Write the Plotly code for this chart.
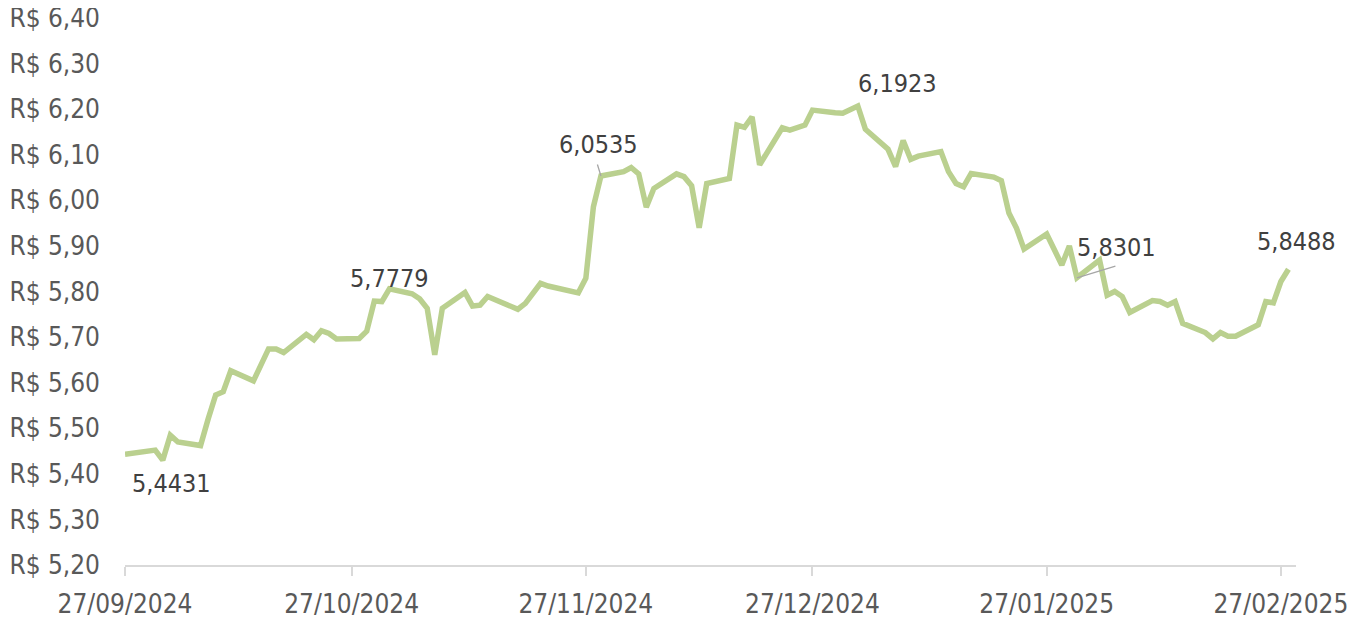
import plotly.graph_objects as go

dates = [
    "2024-09-27", "2024-09-30", "2024-10-01", "2024-10-02", "2024-10-03", "2024-10-04",
    "2024-10-07", "2024-10-08", "2024-10-09", "2024-10-10", "2024-10-11",
    "2024-10-14", "2024-10-15", "2024-10-16", "2024-10-17", "2024-10-18",
    "2024-10-21", "2024-10-22", "2024-10-23", "2024-10-24", "2024-10-25",
    "2024-10-28", "2024-10-29", "2024-10-30", "2024-10-31", "2024-11-01",
    "2024-11-04", "2024-11-05", "2024-11-06", "2024-11-07", "2024-11-08",
    "2024-11-11", "2024-11-12", "2024-11-13", "2024-11-14",
    "2024-11-18", "2024-11-19", "2024-11-21", "2024-11-22",
    "2024-11-25", "2024-11-26", "2024-11-27", "2024-11-28", "2024-11-29",
    "2024-12-02", "2024-12-03", "2024-12-04", "2024-12-05", "2024-12-06",
    "2024-12-09", "2024-12-10", "2024-12-11", "2024-12-12", "2024-12-13",
    "2024-12-16", "2024-12-17", "2024-12-18", "2024-12-19", "2024-12-20",
    "2024-12-23", "2024-12-24", "2024-12-26", "2024-12-27",
    "2024-12-30", "2024-12-31", "2025-01-02", "2025-01-03",
    "2025-01-06", "2025-01-07", "2025-01-08", "2025-01-09", "2025-01-10",
    "2025-01-13", "2025-01-14", "2025-01-15", "2025-01-16", "2025-01-17",
    "2025-01-20", "2025-01-21", "2025-01-22", "2025-01-23", "2025-01-24",
    "2025-01-27", "2025-01-28", "2025-01-29", "2025-01-30", "2025-01-31",
    "2025-02-03", "2025-02-04", "2025-02-05", "2025-02-06", "2025-02-07",
    "2025-02-10", "2025-02-11", "2025-02-12", "2025-02-13", "2025-02-14",
    "2025-02-17", "2025-02-18", "2025-02-19", "2025-02-20", "2025-02-21",
    "2025-02-24", "2025-02-25", "2025-02-26", "2025-02-27", "2025-02-28",
]
values = [
    5.4431, 5.449, 5.452, 5.430, 5.485, 5.470,
    5.462, 5.520, 5.573, 5.580, 5.626,
    5.604, 5.640, 5.674, 5.674, 5.666,
    5.706, 5.694, 5.714, 5.708, 5.696,
    5.697, 5.713, 5.779, 5.7779, 5.806,
    5.795, 5.784, 5.763, 5.661, 5.763,
    5.798, 5.768, 5.770, 5.789,
    5.761, 5.774, 5.818, 5.812,
    5.801, 5.797, 5.829, 5.986, 6.0535,
    6.063, 6.072, 6.058, 5.985, 6.026,
    6.058, 6.052, 6.032, 5.940, 6.037,
    6.048, 6.165, 6.160, 6.183, 6.078,
    6.159, 6.154, 6.165, 6.198,
    6.1923, 6.191, 6.207, 6.156,
    6.112, 6.074, 6.131, 6.090, 6.097,
    6.107, 6.063, 6.037, 6.030, 6.059,
    6.051, 6.043, 5.972, 5.939, 5.893,
    5.926, 5.892, 5.858, 5.900, 5.8301,
    5.869, 5.792, 5.800, 5.789, 5.754,
    5.780, 5.778, 5.770, 5.778, 5.730,
    5.710, 5.696, 5.710, 5.702, 5.702,
    5.727, 5.778, 5.775, 5.822, 5.8488,
]

tick_dates = ["2024-09-27", "2024-10-27", "2024-11-27", "2024-12-27", "2025-01-27", "2025-02-27"]
tick_labels = ["27/09/2024", "27/10/2024", "27/11/2024", "27/12/2024", "27/01/2025", "27/02/2025"]

# labelled points: date, text, x shift, y shift (pixels), leader (ax, ay) or None
label_dates = ["2024-09-27", "2024-10-31", "2024-11-29", "2024-12-30", "2025-01-31", "2025-02-28"]
label_values = [5.4431, 5.7779, 6.0535, 6.1923, 5.8301, 5.8488]
label_texts = ["5,4431", "5,7779", "6,0535", "6,1923", "5,8301", "5,8488"]
label_shift = [(46, -29), (8, 23), (-2, 31), (62, 29), (40, 30), (8, 28)]
label_leader = [None, None, (-4, -13), None, (40, -12), None]

FONT = "DejaVu Sans Condensed, Liberation Sans Narrow, DejaVu Sans, sans-serif"

fig = go.Figure()
fig.add_trace(go.Scatter(
    x=dates, y=values, mode="lines",
    line=dict(color="#bad08f", width=5.5),
    hoverinfo="skip", showlegend=False,
))

annotations = []
for d, v, t, (sx, sy), ld in zip(label_dates, label_values, label_texts, label_shift, label_leader):
    annotations.append(dict(
        x=d, y=v, xref="x", yref="y", text=t, showarrow=False,
        xshift=sx, yshift=sy,
        font=dict(family=FONT, size=25, color="#404040"),
    ))
    if ld is not None:
        annotations.append(dict(
            x=d, y=v, xref="x", yref="y", text="", showarrow=True,
            ax=ld[0], ay=ld[1], arrowhead=0, arrowwidth=1.3,
            arrowcolor="#a6a6a6", standoff=0, startstandoff=0,
        ))

# the page body has an 8px margin, so the figure is sized/offset to compensate
fig.update_layout(
    width=1353, height=610,
    margin=dict(l=117, r=65, t=10, b=53, autoexpand=False),
    paper_bgcolor="white", plot_bgcolor="white",
    separators=",.",
    annotations=annotations,
    font=dict(family=FONT, size=26, color="#595959"),
)
fig.update_xaxes(
    type="date", automargin=False,
    range=["2024-09-27", "2025-03-01"],
    tickvals=tick_dates, ticktext=tick_labels,
    showgrid=False, zeroline=False,
    showline=True, linecolor="#d9d9d9", linewidth=2,
    ticks="outside", ticklen=9, tickcolor="#d9d9d9", tickwidth=1.5,
    tickfont=dict(family=FONT, size=26, color="#595959"),
    ticklabelstandoff=6, ticklabeloverflow="allow",
)
fig.update_yaxes(
    automargin=False,
    range=[5.2, 6.4], dtick=0.1, tick0=5.2,
    tickformat=".2f", tickprefix="R$ ",
    showgrid=False, zeroline=False, showline=False,
    tickfont=dict(family=FONT, size=26, color="#595959"),
    ticklabelstandoff=24, ticklabeloverflow="allow",
)

fig.write_html("out.html")
